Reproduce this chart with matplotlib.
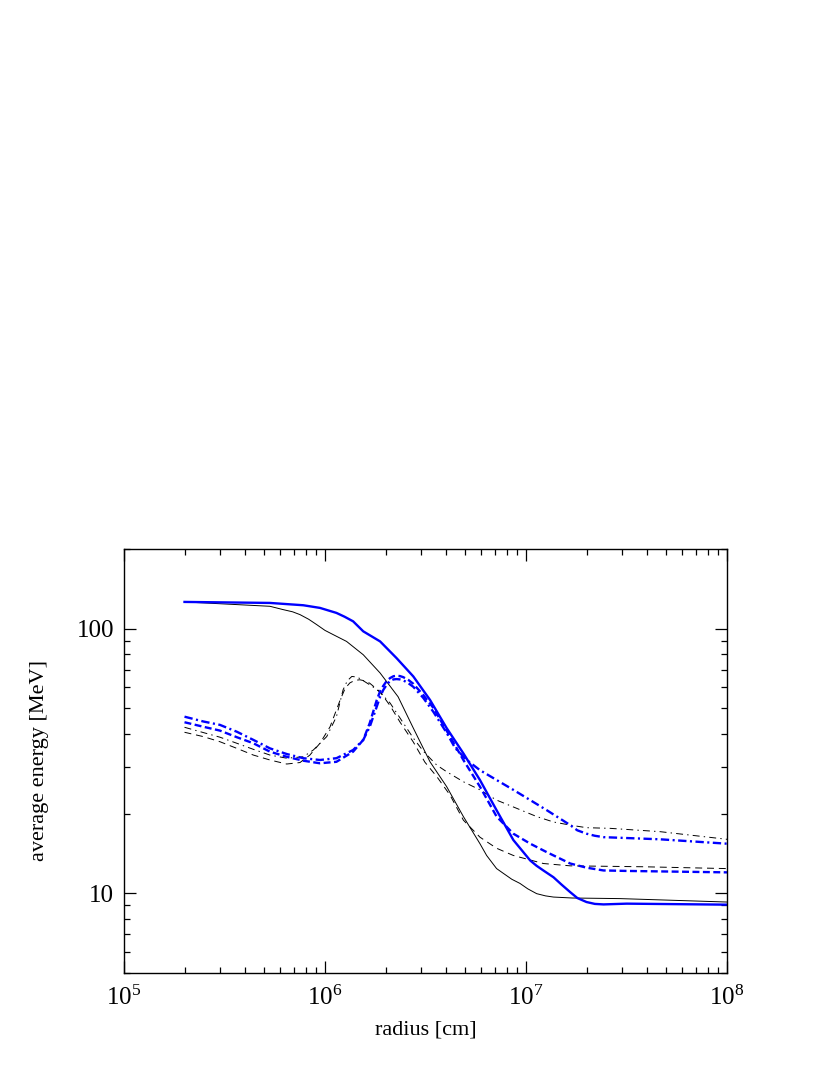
import numpy as np
import matplotlib
matplotlib.use("Agg")
import matplotlib.pyplot as plt
from matplotlib.ticker import LogLocator, FixedLocator, FixedFormatter, NullFormatter, LogFormatterMathtext

plt.rcParams['font.family'] = ['Liberation Serif', 'DejaVu Serif']
plt.rcParams['mathtext.fontset'] = 'custom'
plt.rcParams['mathtext.rm'] = 'Liberation Serif'
plt.rcParams['mathtext.default'] = 'regular'
plt.rcParams['lines.scale_dashes'] = False

# ---- data: radius [cm] and average energy [MeV] ----
r_black_solid = [2.0e5, 5.32e5, 6.2e5, 6.9e5, 7.51e5, 8.3e5, 9.09e5, 1.0e6, 1.10e6, 1.28e6,
                 1.55e6, 1.88e6, 2.31e6, 2.75e6, 3.33e6, 4.03e6, 4.88e6, 5.90e6, 6.37e6, 7.14e6,
                 7.71e6, 8.5e6, 9.33e6, 1.02e7, 1.13e7, 1.25e7, 1.37e7, 1.7e7, 2.94e7, 1.0e8]
E_black_solid = [126.2, 121.5, 118.0, 115.8, 113.0, 108.5, 103.6, 98.5, 94.9, 89.5,
                 79.7, 68.0, 55.3, 42.1, 31.4, 25.3, 19.5, 15.4, 13.9, 12.4,
                 11.9, 11.3, 10.9, 10.4, 9.97, 9.78, 9.68, 9.6, 9.55, 9.27]

r_black_dashdot = [2.0e5, 2.48e5, 3.0e5, 3.64e5, 4.40e5, 5.32e5, 6.45e5, 7.80e5, 8.75e5, 1.02e6,
                   1.14e6, 1.23e6, 1.29e6, 1.36e6, 1.45e6, 1.58e6, 1.72e6, 1.88e6, 2.11e6, 2.36e6,
                   2.75e6, 3.08e6, 3.33e6, 3.6e6, 4.03e6, 4.88e6, 5.90e6, 7.14e6, 8.65e6, 1.13e7,
                   1.37e7, 1.66e7, 2.0e7, 2.62e7, 4.64e7, 1.0e8]
E_black_dashdot = [42.4, 40.5, 38.9, 36.9, 35.0, 33.3, 32.4, 32.8, 34.8, 39.1,
                   46.5, 58.7, 63.5, 66.0, 65.6, 63.0, 60.5, 57.5, 52.3, 46.0,
                   38.6, 34.5, 32.4, 30.5, 28.8, 26.4, 24.6, 22.5, 21.2, 19.5,
                   18.6, 18.1, 17.7, 17.6, 17.1, 16.0]

r_black_dashed = [2.0e5, 2.48e5, 3.0e5, 3.64e5, 4.40e5, 5.32e5, 6.45e5, 7.51e5, 8.41e5, 9.44e5,
                  1.06e6, 1.19e6, 1.26e6, 1.33e6, 1.41e6, 1.49e6, 1.58e6, 1.67e6, 1.88e6, 2.11e6,
                  2.36e6, 2.75e6, 3.14e6, 3.60e6, 4.19e6, 4.88e6, 5.90e6, 7.14e6, 8.65e6, 1.22e7,
                  1.66e7, 3.82e7, 1.0e8]
E_black_dashed = [40.6, 39.1, 37.4, 35.3, 33.3, 31.9, 30.8, 31.2, 33.3, 36.9,
                  42.6, 53.8, 59.5, 62.4, 63.8, 64.1, 63.5, 62.2, 57.7, 51.1,
                  44.4, 37.3, 31.3, 27.6, 23.5, 18.9, 16.3, 14.8, 13.9, 12.96,
                  12.7, 12.6, 12.4]

r_blue_solid = [2.0e5, 5.32e5, 7.80e5, 9.44e5, 1.14e6, 1.25e6, 1.38e6, 1.55e6, 1.88e6, 2.27e6,
                2.75e6, 3.33e6, 4.03e6, 4.88e6, 5.90e6, 7.14e6, 8.65e6, 1.05e7, 1.13e7, 1.22e7,
                1.37e7, 1.5e7, 1.66e7, 1.8e7, 2.0e7, 2.2e7, 2.43e7, 3.17e7, 1.0e8]
E_blue_solid = [126.2, 125.1, 122.6, 119.8, 114.7, 111.0, 106.6, 97.7, 89.5, 77.4,
                66.0, 53.8, 42.1, 33.8, 26.8, 20.6, 15.9, 13.3, 12.7, 12.2,
                11.5, 10.8, 10.1, 9.6, 9.27, 9.12, 9.08, 9.14, 9.06]

r_blue_dashdot = [2.0e5, 2.48e5, 3.0e5, 3.64e5, 4.40e5, 5.32e5, 6.45e5, 7.80e5, 9.44e5, 1.14e6,
                  1.38e6, 1.55e6, 1.67e6, 1.81e6, 1.88e6, 1.95e6, 2.03e6, 2.11e6, 2.19e6, 2.27e6,
                  2.36e6, 2.45e6, 2.6e6, 2.75e6, 3.08e6, 3.46e6, 4.03e6, 4.44e6, 5.07e6, 5.90e6,
                  7.14e6, 8.65e6, 1.05e7, 1.27e7, 1.66e7, 1.8e7, 2.0e7, 2.2e7, 2.43e7, 4.64e7, 1.0e8]
E_blue_dashdot = [46.5, 44.6, 43.3, 40.8, 38.0, 35.3, 33.6, 32.4, 31.9, 32.4,
                  34.8, 38.0, 42.6, 50.8, 55.3, 58.7, 61.5, 63.5, 64.3, 64.5,
                  64.3, 63.8, 62.2, 60.3, 54.8, 48.5, 40.4, 35.4, 31.9, 29.2,
                  26.8, 24.6, 22.5, 20.6, 18.1, 17.3, 16.8, 16.5, 16.3, 16.0, 15.4]

r_blue_dashed = [2.0e5, 2.48e5, 3.0e5, 3.64e5, 4.40e5, 5.32e5, 6.45e5, 7.80e5, 9.44e5, 1.14e6,
                 1.38e6, 1.55e6, 1.67e6, 1.81e6, 1.88e6, 1.95e6, 2.03e6, 2.11e6, 2.19e6, 2.27e6,
                 2.36e6, 2.45e6, 2.6e6, 2.75e6, 3.08e6, 3.46e6, 4.19e6, 4.88e6, 5.90e6, 7.14e6,
                 8.65e6, 1.05e7, 1.27e7, 1.66e7, 2.0e7, 2.43e7, 3.17e7, 1.0e8]
E_blue_dashed = [44.3, 42.6, 41.2, 38.9, 36.9, 34.3, 32.8, 31.7, 31.0, 31.4,
                 34.3, 38.0, 44.0, 53.8, 58.0, 60.8, 63.5, 65.1, 66.1, 66.4,
                 66.2, 65.6, 64.0, 61.9, 56.2, 50.2, 39.1, 31.9, 25.3, 19.5,
                 16.8, 15.4, 14.3, 12.96, 12.5, 12.2, 12.15, 12.0]

x_ticks = [1e5, 1e6, 1e7, 1e8]
y_ticks = [10, 100]
y_ticklabels = ['10', '100']

fig = plt.figure(figsize=(8.3, 10.75), dpi=100)
ax = fig.add_axes([0.1494, 0.0949, 0.7265, 0.3944])

blue = '#0000ff'
ax.plot(r_black_solid, E_black_solid, color='black', lw=0.7)
ax.plot(r_black_dashed, E_black_dashed, color='black', lw=0.7, linestyle=(0, (5, 3.5)))
ax.plot(r_black_dashdot, E_black_dashdot, color='black', lw=0.7, linestyle=(0, (5, 3, 1, 3)))
ax.plot(r_blue_solid, E_blue_solid, color=blue, lw=1.7)
ax.plot(r_blue_dashed, E_blue_dashed, color=blue, lw=1.7, linestyle=(0, (5, 2.5)))
ax.plot(r_blue_dashdot, E_blue_dashdot, color=blue, lw=1.7, linestyle=(0, (6, 2.5, 1.5, 2.5)))

ax.set_xscale('log')
ax.set_yscale('log')
ax.set_xlim(1e5, 1e8)
ax.set_ylim(5, 200)

ax.xaxis.set_major_locator(FixedLocator(x_ticks))
ax.xaxis.set_major_formatter(LogFormatterMathtext())
ax.xaxis.set_minor_locator(LogLocator(base=10, subs=np.arange(2, 10)))
ax.xaxis.set_minor_formatter(NullFormatter())
ax.yaxis.set_major_locator(FixedLocator(y_ticks))
ax.yaxis.set_major_formatter(FixedFormatter(y_ticklabels))
ax.yaxis.set_minor_locator(LogLocator(base=10, subs=np.arange(2, 10)))
ax.yaxis.set_minor_formatter(NullFormatter())

ax.tick_params(which='both', direction='in', top=True, right=True, width=0.9, labelsize=18)
ax.tick_params(which='major', length=8.5)
ax.tick_params(which='minor', length=4.3)
ax.tick_params(axis='x', which='major', pad=9)
ax.tick_params(axis='y', which='major', pad=7)
for s in ax.spines.values():
    s.set_linewidth(1.0)

ax.set_xlabel('radius [cm]', fontsize=16, labelpad=8)
ax.set_ylabel('average energy [MeV]', fontsize=16, labelpad=20)

fig.savefig('out.png', dpi=100)
